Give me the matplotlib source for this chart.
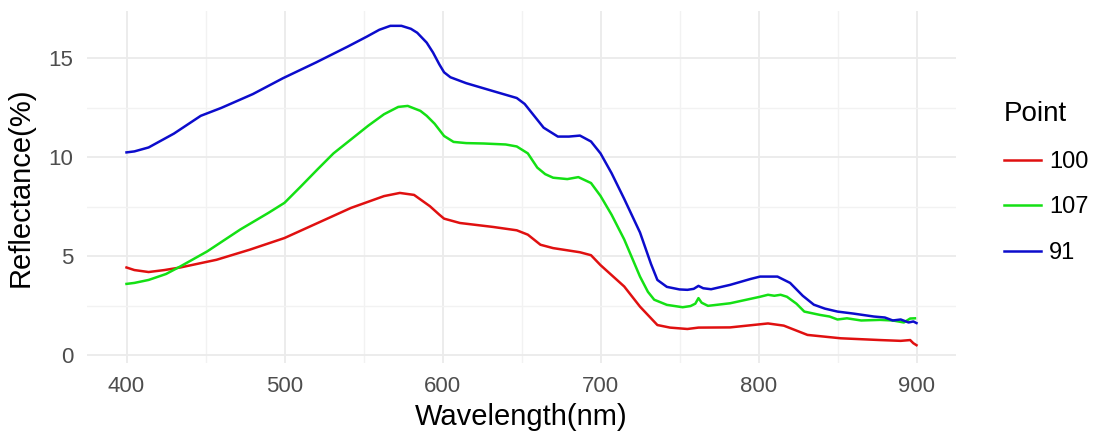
import matplotlib.pyplot as plt
from matplotlib.ticker import MultipleLocator

# reflectance spectra, one list pair per point
wl_91 = [400, 405, 414, 430, 447, 460, 480, 499, 520, 540, 552, 560, 567, 574, 580, 584,
         590, 594, 598, 601, 605, 615, 632, 647, 652, 658, 664, 673, 680, 687, 694, 700,
         707, 715, 725, 732, 736, 742, 750, 755, 759, 762, 765, 770, 782, 795, 801, 812,
         820, 828, 835, 842, 850, 860, 873, 880, 885, 890, 895, 898, 900]
refl_91 = [10.25, 10.3, 10.5, 11.2, 12.1, 12.5, 13.2, 14.0, 14.8, 15.6, 16.1, 16.45, 16.65,
           16.65, 16.5, 16.3, 15.8, 15.3, 14.7, 14.3, 14.05, 13.75, 13.35, 13.0, 12.7, 12.1,
           11.5, 11.05, 11.05, 11.1, 10.8, 10.2, 9.2, 7.9, 6.2, 4.6, 3.8, 3.45, 3.32, 3.3,
           3.35, 3.5, 3.38, 3.33, 3.55, 3.85, 3.97, 3.97, 3.65, 3.0, 2.55, 2.35, 2.2, 2.1,
           1.95, 1.9, 1.75, 1.8, 1.65, 1.7, 1.62]

wl_107 = [400, 405, 414, 425, 434, 451, 472, 490, 500, 510, 521, 531, 542, 553, 563, 572,
          578, 586, 590, 595, 601, 607, 615, 626, 640, 647, 654, 660, 665, 670, 679, 686,
          694, 700, 707, 715, 725, 730, 734, 742, 752, 757, 760, 762, 764, 768, 782, 801,
          806, 810, 814, 818, 824, 829, 839, 845, 850, 856, 865, 877, 885, 892, 896, 899]
refl_107 = [3.6, 3.65, 3.8, 4.1, 4.48, 5.24, 6.35, 7.2, 7.7, 8.5, 9.4, 10.2, 10.9, 11.6,
            12.18, 12.55, 12.6, 12.35, 12.1, 11.7, 11.08, 10.78, 10.72, 10.7, 10.65, 10.55,
            10.2, 9.48, 9.15, 8.97, 8.9, 9.0, 8.7, 8.05, 7.1, 5.85, 3.97, 3.2, 2.8, 2.54,
            2.42, 2.48, 2.6, 2.88, 2.65, 2.49, 2.62, 2.95, 3.05, 3.0, 3.05, 2.95, 2.6, 2.2,
            2.03, 1.95, 1.8, 1.86, 1.75, 1.78, 1.75, 1.65, 1.85, 1.86]

wl_100 = [400, 405, 414, 424, 434, 457, 478, 500, 521, 542, 563, 573, 582, 592, 598, 601,
          611, 632, 647, 654, 662, 670, 687, 694, 700, 715, 725, 736, 744, 755, 762, 782,
          806, 816, 831, 852, 877, 890, 896, 898, 900]
refl_100 = [4.43, 4.3, 4.2, 4.3, 4.43, 4.82, 5.33, 5.92, 6.68, 7.44, 8.04, 8.2, 8.1, 7.53,
            7.1, 6.9, 6.68, 6.48, 6.31, 6.09, 5.58, 5.41, 5.2, 5.05, 4.55, 3.47, 2.45, 1.52,
            1.39, 1.32, 1.39, 1.4, 1.6, 1.49, 1.02, 0.85, 0.76, 0.72, 0.76, 0.6, 0.5]

labels = ['100', '107', '91']
colors = ['#E01010', '#14E014', '#0C0CCC']

plt.rcParams['font.family'] = ['Liberation Sans', 'DejaVu Sans']

fig = plt.figure(figsize=(11.05, 4.34), dpi=100)
ax = fig.add_axes([87 / 1105, 1 - 363 / 434, (956 - 87) / 1105, (363 - 11) / 434])

series = [(wl_100, refl_100), (wl_107, refl_107), (wl_91, refl_91)]
for (wl, refl), lab, col in zip(series, labels, colors):
    ax.plot(wl, refl, color=col, lw=1.8, label=lab)

ax.set_xlim(375, 925)
ax.set_ylim(-0.4, 17.4)
ax.xaxis.set_major_locator(MultipleLocator(100))
ax.xaxis.set_minor_locator(MultipleLocator(50))
ax.yaxis.set_major_locator(MultipleLocator(5))
ax.yaxis.set_minor_locator(MultipleLocator(2.5))
ax.grid(which='major', color='#EBEBEB', lw=1.3)
ax.grid(which='minor', color='#F2F2F2', lw=1.0)
ax.set_axisbelow(True)
for s in ax.spines.values():
    s.set_visible(False)
ax.tick_params(which='both', length=0)
ax.tick_params(axis='both', labelsize=16, labelcolor='#4D4D4D')
ax.tick_params(axis='y', pad=10)
ax.tick_params(axis='x', pad=9)

ax.set_xlabel('Wavelength(nm)', fontsize=21, labelpad=5)
ax.set_ylabel('Reflectance(%)', fontsize=21, labelpad=10)

leg = fig.legend(loc='upper left', bbox_to_anchor=(983 / 1105, 1 - 80 / 434),
                 title='Point', frameon=False, fontsize=17, title_fontsize=20,
                 handlelength=1.55, handletextpad=0.35, labelspacing=1.0)
leg._legend_box.align = 'left'

fig.savefig('out.png', dpi=100)
